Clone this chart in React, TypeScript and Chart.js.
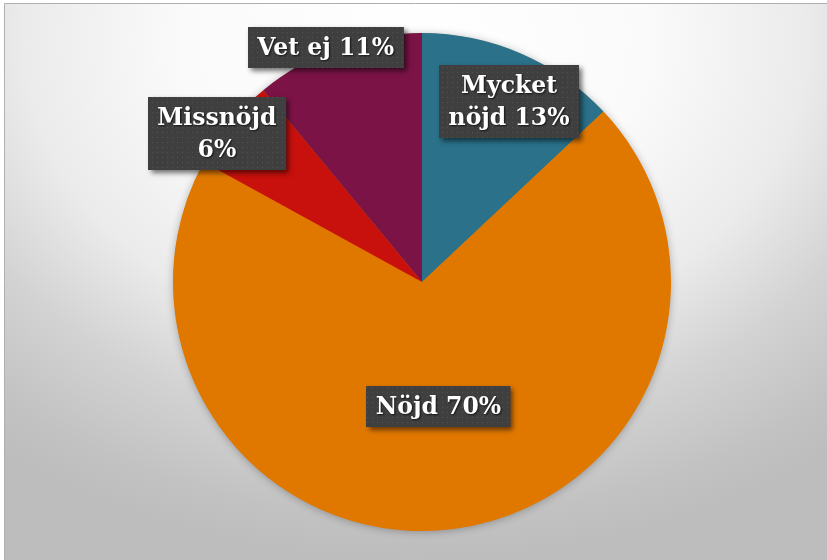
import React, { useEffect, useRef } from "react";
import { Chart, registerables } from "chart.js";

Chart.register(...registerables);

const categories = ["Mycket nöjd", "Nöjd", "Missnöjd", "Vet ej"];
const values = [13, 70, 6, 11];
const sliceColors = ["#2a7189", "#e07800", "#c8100c", "#7c1346"];

// label layout: [radius factor, angle tweak in degrees, wrap width]
const labelLayout = [
  [0.806, 2.3, 135],
  [0.504, -0.35, 230],
  [1.017, -3.7, 135],
  [1.02, -2.5, 230],
];

function makePattern(ctx: CanvasRenderingContext2D) {
  const c = document.createElement("canvas");
  c.width = 5;
  c.height = 5;
  const p = c.getContext("2d")!;
  p.fillStyle = "#3f3f3f";
  p.fillRect(0, 0, 5, 5);
  p.fillStyle = "#535353";
  p.fillRect(2, 2, 1, 1);
  return ctx.createPattern(c, "repeat")!;
}

const backgroundPlugin = {
  id: "bgPlugin",
  beforeDraw(chart: any) {
    const ctx: CanvasRenderingContext2D = chart.ctx;
    const w = chart.width;
    const h = chart.height;
    ctx.save();
    ctx.fillStyle = "#ffffff";
    ctx.fillRect(0, 0, w, h);
    ctx.save();
    const cx = 415, cy = 40;
    const sx = 1.3;
    ctx.translate(cx, cy);
    ctx.scale(sx, 1);
    const g = ctx.createRadialGradient(0, 0, 0, 0, 0, 520);
    g.addColorStop(0, "#ffffff");
    g.addColorStop(0.35, "#fafafa");
    g.addColorStop(0.58, "#ebebeb");
    g.addColorStop(0.75, "#d3d3d3");
    g.addColorStop(0.92, "#c2c2c2");
    g.addColorStop(1, "#bdbdbd");
    ctx.fillStyle = g;
    ctx.fillRect((5 - cx) / sx, 4 - cy, (w - 5) / sx, h);
    ctx.restore();
    ctx.strokeStyle = "#b0b0b0";
    ctx.lineWidth = 1;
    ctx.beginPath();
    ctx.moveTo(4.5, h);
    ctx.lineTo(4.5, 3.5);
    ctx.lineTo(w, 3.5);
    ctx.stroke();
    ctx.restore();
  },
  beforeDatasetsDraw(chart: any) {
    const arc = chart.getDatasetMeta(0).data[0];
    if (!arc) return;
    const ctx: CanvasRenderingContext2D = chart.ctx;
    ctx.save();
    ctx.shadowColor = "rgba(0,0,0,0.3)";
    ctx.shadowBlur = 8;
    ctx.shadowOffsetX = 0;
    ctx.shadowOffsetY = 1;
    ctx.fillStyle = sliceColors[1];
    ctx.beginPath();
    ctx.arc(arc.x, arc.y, arc.outerRadius - 0.5, 0, Math.PI * 2);
    ctx.fill();
    ctx.restore();
  },
};

function wrapText(ctx: CanvasRenderingContext2D, text: string, maxW: number) {
  const words = text.split(" ");
  const lines: string[] = [];
  let cur = "";
  for (const wd of words) {
    const test = cur ? cur + " " + wd : wd;
    if (cur && ctx.measureText(test).width > maxW) {
      lines.push(cur);
      cur = wd;
    } else cur = test;
  }
  if (cur) lines.push(cur);
  return lines;
}

const labelPlugin = {
  id: "labelPlugin",
  afterDatasetsDraw(chart: any) {
    const ctx: CanvasRenderingContext2D = chart.ctx;
    const meta = chart.getDatasetMeta(0);
    const pattern = makePattern(ctx);
    const total = values.reduce((a, b) => a + b, 0);
    ctx.save();
    ctx.font = "bold 23.5px 'DejaVu Serif'";
    meta.data.forEach((arc: any, i: number) => {
      const [rf, tweak, wrapW] = labelLayout[i];
      const mid = (arc.startAngle + arc.endAngle) / 2 + (tweak * Math.PI) / 180;
      const r = arc.outerRadius * rf;
      const x = arc.x + Math.cos(mid) * r;
      const y = arc.y + Math.sin(mid) * r;
      const pct = Math.round((values[i] / total) * 100);
      const text = categories[i] + " " + pct + "%";
      const lines = wrapText(ctx, text, wrapW);
      const lh = 32;
      let tw = 0;
      lines.forEach((l) => (tw = Math.max(tw, ctx.measureText(l).width)));
      const bw = tw + 19;
      const bh = lines.length * lh + 9;
      const bx = Math.round(x - bw / 2);
      const by = Math.round(y - bh / 2);
      ctx.save();
      ctx.shadowColor = "rgba(0,0,0,0.55)";
      ctx.shadowBlur = 5;
      ctx.shadowOffsetX = 3;
      ctx.shadowOffsetY = 3;
      ctx.fillStyle = "#3f3f3f";
      ctx.fillRect(bx, by, bw, bh);
      ctx.restore();
      ctx.fillStyle = pattern;
      ctx.fillRect(bx, by, bw, bh);
      ctx.save();
      ctx.fillStyle = "#ffffff";
      ctx.textAlign = "center";
      ctx.textBaseline = "middle";
      ctx.shadowColor = "rgba(0,0,0,0.7)";
      ctx.shadowBlur = 2;
      ctx.shadowOffsetX = 1;
      ctx.shadowOffsetY = 1;
      lines.forEach((l, k) => {
        ctx.fillText(l, x, by + 4.5 + lh * k + lh / 2 + 1);
      });
      ctx.restore();
    });
    ctx.restore();
  },
};

export default function App() {
  const ref = useRef<HTMLCanvasElement | null>(null);
  useEffect(() => {
    document.body.style.margin = "0";
    const chart = new Chart(ref.current!, {
      type: "pie",
      data: {
        labels: categories,
        datasets: [
          {
            data: values,
            backgroundColor: sliceColors,
            borderWidth: 0,
          },
        ],
      },
      options: {
        animation: false,
        responsive: false,
        maintainAspectRatio: false,
        layout: { padding: { left: 173, right: 156, top: 33, bottom: 29 } },
        plugins: { legend: { display: false }, tooltip: { enabled: false } },
      },
      plugins: [backgroundPlugin, labelPlugin],
    });
    return () => chart.destroy();
  }, []);
  return (
    <div style={{ width: 827, height: 560 }}>
      <canvas ref={ref} width={827} height={560} style={{ display: "block" }} />
    </div>
  );
}
